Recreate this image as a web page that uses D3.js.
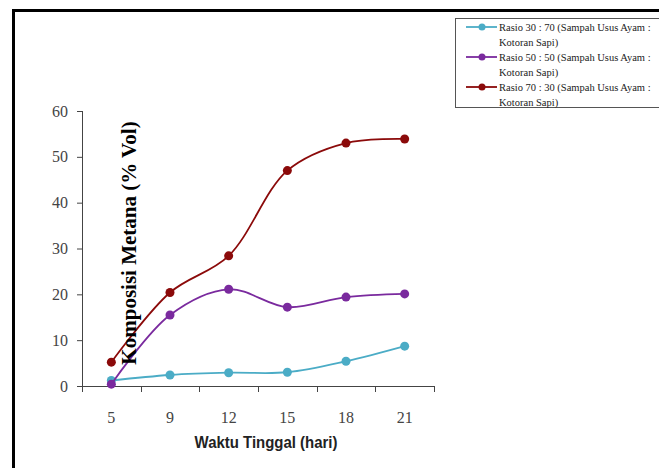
<!DOCTYPE html>
<html>
<head>
<meta charset="utf-8">
<script src="https://cdn.jsdelivr.net/npm/d3@7"></script>
<style>
  body { margin: 0; background: #fff; }
  svg { display: block; }
</style>
</head>
<body>
<svg width="659" height="468"></svg>
<script>
// data
const days = ["5", "9", "12", "15", "18", "21"]
const rasio3070 = [1.2, 2.4, 2.9, 3.0, 5.4, 8.7]
const rasio5050 = [0.4, 15.5, 21.1, 17.2, 19.4, 20.1]
const rasio7030 = [5.2, 20.4, 28.4, 47.0, 53.0, 53.9]
const yTicks = [0, 10, 20, 30, 40, 50, 60]
const seriesNames = [
  ["Rasio 30 : 70 (Sampah Usus Ayam :", "Kotoran Sapi)"],
  ["Rasio 50 : 50 (Sampah Usus Ayam :", "Kotoran Sapi)"],
  ["Rasio 70 : 30 (Sampah Usus Ayam :", "Kotoran Sapi)"]
]
const colors = ["#4bacc6", "#7a2a9e", "#8b0a0a"]

const series = [rasio3070, rasio5050, rasio7030]
const SERIF = "'Liberation Serif', serif"

let svg = d3.select("svg")

// outer frame (only top and left edges are visible)
svg.append("path")
  .attr("d", "M13.5,468 V10.5 H659")
  .attr("fill", "none")
  .attr("stroke", "#000")
  .attr("stroke-width", 3)

let x = d3.scaleBand().domain(days).range([82, 434])
let y = d3.scaleLinear().domain([0, 60]).range([386, 111])

// x axis
let xAxis = svg.append("g")
  .attr("transform", "translate(0,386)")
  .call(d3.axisBottom(x).tickSize(0).tickPadding(0))
xAxis.select(".domain").attr("stroke", "#444").attr("d", "M82,0.5H434")
xAxis.selectAll(".tick text")
  .attr("y", 26)
  .style("font-family", SERIF)
  .style("font-size", "16px")
  .attr("fill", "#444")
// tick marks sit on band edges
xAxis.selectAll(".edge")
  .data(days.map(d => x(d)).concat([434]))
  .enter().append("line")
  .attr("x1", d => Math.round(d) + 0.5).attr("x2", d => Math.round(d) + 0.5)
  .attr("y1", 0).attr("y2", 6)
  .attr("stroke", "#444")

// y axis
let yAxis = svg.append("g")
  .attr("transform", "translate(82,0)")
  .call(d3.axisLeft(y).tickValues(yTicks).tickSize(5).tickPadding(9))
yAxis.select(".domain").attr("stroke", "#444").attr("d", "M0.5,111V386")
yAxis.selectAll(".tick line").attr("stroke", "#444")
yAxis.selectAll(".tick text")
  .style("font-family", SERIF)
  .style("font-size", "16px")
  .attr("fill", "#444")

// lines and markers
let line = d3.line()
  .x((d, i) => x(days[i]) + x.bandwidth() / 2)
  .y(d => y(d))
  .curve(d3.curveCatmullRom.alpha(0.5))

series.forEach((s, k) => {
  svg.append("path")
    .attr("d", line(s))
    .attr("fill", "none")
    .attr("stroke", colors[k])
    .attr("stroke-width", 1.8)
  svg.selectAll(".dot" + k)
    .data(s)
    .enter().append("circle")
    .attr("cx", (d, i) => x(days[i]) + x.bandwidth() / 2)
    .attr("cy", d => y(d))
    .attr("r", 4.5)
    .attr("fill", colors[k])
})

// axis titles
svg.append("text")
  .attr("transform", "translate(136,243) rotate(-90)")
  .attr("text-anchor", "middle")
  .style("font-family", SERIF)
  .style("font-weight", "bold")
  .style("font-size", "21px")
  .text("Komposisi Metana (% Vol)")

svg.append("text")
  .attr("transform", "translate(266,448) scale(0.88,1)")
  .attr("text-anchor", "middle")
  .style("font-family", "'Liberation Sans', sans-serif")
  .style("font-weight", "bold")
  .style("font-size", "17px")
  .attr("fill", "#222")
  .text("Waktu Tinggal (hari)")

// legend
let legend = svg.append("g")
legend.append("rect")
  .attr("x", 455.5).attr("y", 18.5)
  .attr("width", 220).attr("height", 89)
  .attr("fill", "#fff")
  .attr("stroke", "#555")

seriesNames.forEach((names, k) => {
  let cy = 27 + k * 30
  legend.append("line")
    .attr("x1", 466).attr("x2", 497)
    .attr("y1", cy).attr("y2", cy)
    .attr("stroke", colors[k]).attr("stroke-width", 1.8)
  legend.append("circle")
    .attr("cx", 482).attr("cy", cy).attr("r", 3.5)
    .attr("fill", colors[k])
  names.forEach((n, j) => {
    legend.append("text")
      .attr("x", 499)
      .attr("y", cy + 4 + j * 15)
      .style("font-family", SERIF)
      .style("font-size", "10.5px")
      .attr("fill", "#222")
      .text(n)
  })
})
</script>
</body>
</html>
